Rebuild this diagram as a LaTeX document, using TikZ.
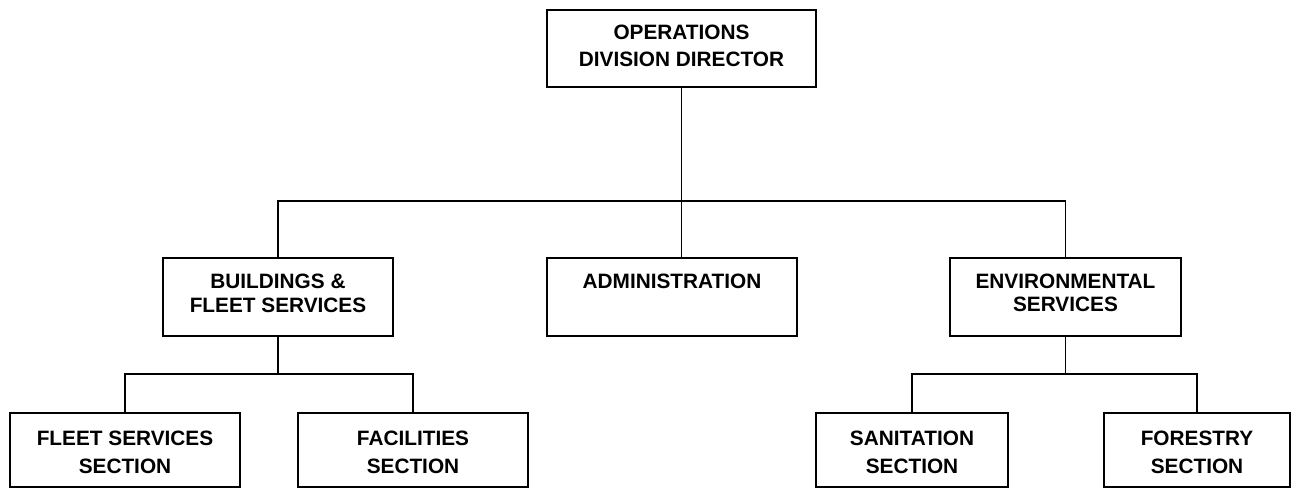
\documentclass[tikz,border=0pt]{standalone}
\usepackage{fontspec}
\setmainfont{Liberation Sans}
\newcommand\orgtext[5]{\parbox[c][#1][t]{#2}{\centering\fontsize{20.8}{#4}\selectfont\bfseries\vspace*{#3}#5}}
\tikzset{
  orgbox/.style={draw, line width=1.4pt, inner sep=0pt, outer sep=0pt, fill=white},
  link/.style={line width=1.4pt}
}
\begin{document}
\begin{tikzpicture}[x=1pt,y=-1pt]
\useasboundingbox (0,0) rectangle (1294,489);
% level 0
\node[orgbox] (top) at (681.5,48.5) {\orgtext{77pt}{269pt}{15pt}{27pt}{OPERATIONS\\DIVISION DIRECTOR}};
% level 1
\node[orgbox] (bld) at (278,297) {\orgtext{78pt}{230pt}{16pt}{23.5pt}{BUILDINGS \&\\FLEET SERVICES}};
\node[orgbox] (adm) at (672,297) {\orgtext{78pt}{250pt}{15.5pt}{23.5pt}{ADMINISTRATION}};
\node[orgbox] (env) at (1065.5,297) {\orgtext{78pt}{231pt}{15.5pt}{23.5pt}{ENVIRONMENTAL\\SERVICES}};
% level 2
\node[orgbox] (flt) at (125,450) {\orgtext{74pt}{230pt}{18pt}{27.5pt}{FLEET SERVICES\\SECTION}};
\node[orgbox] (fac) at (413,450) {\orgtext{74pt}{230pt}{18pt}{27.5pt}{FACILITIES\\SECTION}};
\node[orgbox] (san) at (912,450) {\orgtext{74pt}{192pt}{18pt}{27.5pt}{SANITATION\\SECTION}};
\node[orgbox] (for) at (1197,450) {\orgtext{74pt}{186pt}{18pt}{27.5pt}{FORESTRY\\SECTION}};
% bus coordinates
\coordinate (bus) at (681.5,201);
\path (bld.south) ++(0,38) coordinate (lbus);
\path (env.south) ++(0,38) coordinate (rbus);
% connectors
\draw[link] (top.south) -- (top.south |- adm.north);
\draw[link] (bld.north) |- (bus) -| (env.north);
\draw[link] (bld.south) -- (lbus);
\draw[link] (flt.north) |- (lbus) -| (fac.north);
\draw[link] (env.south) -- (rbus);
\draw[link] (san.north) |- (rbus) -| (for.north);
\end{tikzpicture}
\end{document}
